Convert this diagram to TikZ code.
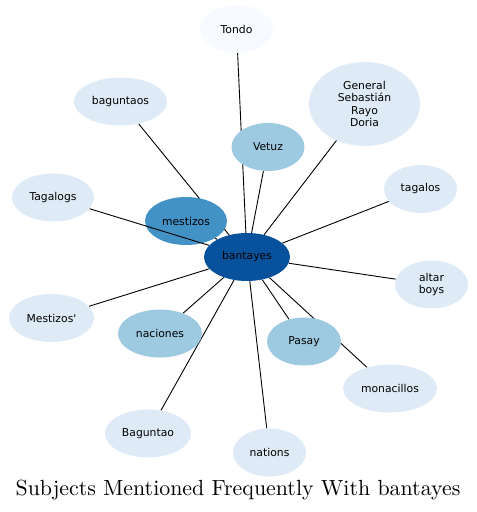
\documentclass[tikz,border=0pt]{standalone}
\usepackage{fontspec}
\usepackage{tikz}
\usetikzlibrary{shapes.geometric}
\newfontfamily\bubfont{DejaVu Sans}
\definecolor{bluedark}{HTML}{08519C}
\definecolor{bluemid}{HTML}{4292C6}
\definecolor{bluelight}{HTML}{9ECAE1}
\definecolor{bluepale}{HTML}{DEEBF7}
\definecolor{bluewhite}{HTML}{F7FBFF}
\pgfdeclarelayer{bg}
\pgfsetlayers{bg,main}

\begin{document}
\begin{tikzpicture}[x=1pt, y=-1pt,
		bub/.style={ellipse, draw=none, inner sep=0pt, minimum width=73pt, minimum height=48pt, align=center,
			font=\bubfont\fontsize{10.8}{12.3}\selectfont},
		link/.style={line width=0.9pt, black}]
		%%%%% START %%%%%
		\useasboundingbox (0, 0) rectangle (477, 512);
		
		\node[bub, fill=bluedark, minimum width=86pt] (bantayes) at (247, 257) {bantayes};
		\node[bub, fill=bluemid, minimum width=82pt] (mestizos) at (186, 221) {mestizos};
		
		\node[bub, fill=bluelight] (vetuz) at (268, 147) {Vetuz};
		\node[bub, fill=bluelight, minimum width=84pt] (naciones) at (160, 333.5) {naciones};
		\node[bub, fill=bluelight, minimum width=74pt] (pasay) at (304, 341.5) {Pasay};
		
		\node[bub, fill=bluewhite] (tondo) at (236.5, 29) {Tondo};
		\node[bub, fill=bluepale, minimum width=93pt] (baguntaos) at (120.5, 101.5) {baguntaos};
		\node[bub, fill=bluepale, minimum width=111pt, minimum height=84pt] (general) at (364.5, 104) {General\\Sebastián\\Rayo\\Doria};
		\node[bub, fill=bluepale] (tagalos) at (420.5, 189) {tagalos};
		\node[bub, fill=bluepale, minimum width=82pt] (tagalogs) at (53, 197.5) {Tagalogs};
		\node[bub, fill=bluepale] (altar) at (431.5, 284.5) {altar\\boys};
		\node[bub, fill=bluepale, minimum width=85pt] (mestizos2) at (51.5, 318) {Mestizos'};
		\node[bub, fill=bluepale, minimum width=94pt] (monacillos) at (390, 388.5) {monacillos};
		\node[bub, fill=bluepale, minimum width=86pt] (baguntao) at (148, 433.5) {Baguntao};
		\node[bub, fill=bluepale] (nations) at (269.5, 452.5) {nations};
		
		\begin{pgfonlayer}{bg}
			\draw[link] (bantayes) -- (mestizos);
			\draw[link] (bantayes) -- (vetuz);
			\draw[link] (bantayes) -- (naciones);
			\draw[link] (bantayes) -- (pasay);
			\draw[link] (bantayes) -- (tondo);
			\draw[link] (bantayes) -- (baguntaos);
			\draw[link] (bantayes) -- (general);
			\draw[link] (bantayes) -- (tagalos);
			\draw[link] (bantayes) -- (altar);
			\draw[link] (bantayes) -- (mestizos2);
			\draw[link] (bantayes) -- (monacillos);
			\draw[link] (bantayes) -- (baguntao);
			\draw[link] (bantayes) -- (nations);
		\end{pgfonlayer}
		\draw[link] (bantayes) -- (tagalogs);
		
		\node (title) at (238, 490.5) {\scalebox{2.19}{Subjects Mentioned Frequently With bantayes}};
		%%%%% END %%%%%
\end{tikzpicture}
\end{document}
